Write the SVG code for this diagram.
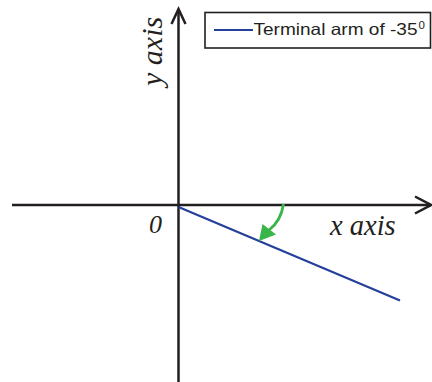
<svg xmlns="http://www.w3.org/2000/svg" width="432" height="382" viewBox="0 0 432 382">
<style>
.ax{stroke:#231f20;stroke-width:2.5;fill:none}
.lbl{font-family:"Liberation Serif",serif;font-style:italic;fill:#231f20}
.leg{font-family:"Liberation Sans",Arial,sans-serif;fill:#231f20}
</style>
<rect x="0" y="0" width="432" height="382" fill="#ffffff"/>
<g id="axes" class="connectors">
<line class="ax" x1="12" y1="205" x2="430" y2="205"/>
<polyline class="ax" points="415,196.5 431,205 415,213.5"/>
<line class="ax" x1="178.5" y1="382" x2="178.5" y2="10"/>
<polyline class="ax" points="171.5,24 178.5,9 185.5,24"/>
</g>
<g id="terminal-arm">
<line x1="178.5" y1="207" x2="400" y2="300.5" stroke="#24409a" stroke-width="2.2"/>
</g>
<g id="rotation-arrow">
<path d="M283.5,204 Q281,221 269,230" fill="none" stroke="#3ab54a" stroke-width="2.8"/>
<polygon points="262.5,224 276,234.5 259,241" fill="#3ab54a"/>
</g>
<g id="labels">
<text class="lbl" x="149" y="233" font-size="26">0</text>
<text class="lbl" x="330" y="235" font-size="28.5">x axis</text>
<text class="lbl" transform="translate(162,86) rotate(-90)" font-size="30">y axis</text>
</g>
<g id="legend">
<rect x="205" y="12.5" width="225.5" height="35.5" fill="#ffffff" stroke="#231f20" stroke-width="1.6"/>
<line x1="214" y1="30" x2="253" y2="30" stroke="#24409a" stroke-width="2.2"/>
<text class="leg" x="253.5" y="35" font-size="16.5" textLength="164" lengthAdjust="spacingAndGlyphs">Terminal arm of -35</text>
<text class="leg" x="418.5" y="29" font-size="11.5">0</text>
</g>
</svg>
